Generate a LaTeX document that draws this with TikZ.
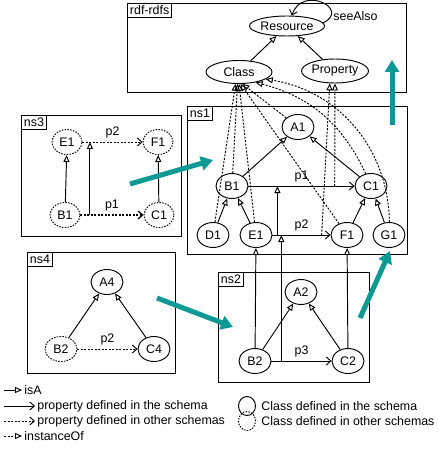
\documentclass[tikz,border=0pt]{standalone}
\usepackage{fontspec}
\setmainfont{Liberation Sans}
\usetikzlibrary{arrows.meta, shapes.geometric}
\definecolor{cteal}{HTML}{0E9A94}
\tikzset{
  every picture/.style={line width=0.95pt, font=\fontsize{12.4}{15}\selectfont},
  cls/.style={draw, ellipse, minimum width=32pt, minimum height=25pt, inner sep=0pt},
  ocls/.style={cls, dash pattern=on 1.5pt off 1.3pt},
  isa/.style={-{Triangle[open, length=7pt, width=6pt]}},
  prop/.style={-{Straight Barb[length=4.5pt, width=8pt]}},
  oprop/.style={prop, dash pattern=on 2pt off 1.5pt},
  inst/.style={isa, dash pattern=on 2pt off 1.5pt},
  nsbox/.style={draw, anchor=north west, inner sep=0pt},
  tag/.style={draw, anchor=north west, inner sep=2.5pt},
  bigarrow/.style={draw=cteal, line width=5pt, -{Triangle[length=12pt, width=14pt]}},
  legtext/.style={anchor=west, inner sep=2pt},
}

\begin{document}
\begin{tikzpicture}[x=1pt, y=-1pt]
  \useasboundingbox (0,0) rectangle (438,449);
  % namespace boxes with their tags
  \node[nsbox, minimum width=279pt, minimum height=89pt] (rdf) at (127,3) {};
  \node[tag] (rdfTag) at (rdf.north west) {rdf-rdfs};
  \node[nsbox, minimum width=220pt, minimum height=148pt] (ns1) at (187,106) {};
  \node[tag] (ns1Tag) at (ns1.north west) {ns1};
  \node[nsbox, minimum width=151pt, minimum height=110pt] (ns2) at (218,272) {};
  \node[tag] (ns2Tag) at (ns2.north west) {ns2};
  \node[nsbox, minimum width=160pt, minimum height=121pt] (ns3) at (21,115) {};
  \node[tag] (ns3Tag) at (ns3.north west) {ns3};
  \node[nsbox, minimum width=148pt, minimum height=121pt] (ns4) at (27,252) {};
  \node[tag] (ns4Tag) at (ns4.north west) {ns4};

  % rdf-rdfs
  \node[cls, minimum width=70pt, minimum height=20pt] (Resource) at (287,26) {Resource};
  \node[cls, minimum width=66pt, minimum height=23pt] (Class) at (239,72) {Class};
  \node[cls, minimum width=67pt, minimum height=24pt] (Property) at (335,71) {Property};
  \draw[isa] (Class) -- (Resource);
  \draw[isa] (Property) -- (Resource);
  \draw[prop] (Resource.5) .. controls +(28,-14) and +(10,-31) .. (Resource.65);
  \node[anchor=west, inner sep=0pt] (seeAlso) at (333,16) {seeAlso};

  % ns1
  \node[cls] (A1) at (298,127) {A1};
  \node[cls] (B1) at (232,186) {B1};
  \node[cls] (C1) at (371,186) {C1};
  \node[cls] (D1) at (213,235) {D1};
  \node[cls] (E1) at (256,235) {E1};
  \node[cls] (F1) at (347,235) {F1};
  \node[cls] (G1) at (389,235) {G1};
  \draw[isa] (B1) -- (A1);
  \draw[isa] (C1) -- (A1);
  \draw[isa] (D1) -- (B1);
  \draw[isa] (E1) -- (B1);
  \draw[isa] (F1) -- (C1);
  \draw[isa] (G1) -- (C1);
  \draw[prop] (B1) -- coordinate[pos=0.813] (q1b) node[above] {p1} (C1);
  \draw[prop] (E1) -- coordinate[pos=0.085] (q2a) coordinate[pos=0.847] (q2b) node[above] {p2} (F1);
  \draw[isa] (q2a) -- (q2a |- B1);

  % ns1 -> rdf-rdfs (instanceOf)
  \draw[inst] (D1) -- (Class.254);
  \draw[inst] (B1) -- (Class.263);
  \draw[inst] (E1) -- (Class.270);
  \draw[inst] (F1) -- (Class.277);
  \draw[inst] (A1) -- (Class.286);
  \draw[inst] (C1) to[bend right=25] (Class.328);
  \draw[inst] (G1) to[bend right=40] (Class.345);
  \draw[inst] (q1b) -- (Property.south);
  \draw[inst] (q2b) -- (Property.247);

  % ns2
  \node[cls] (A2) at (301,292) {A2};
  \node[cls] (B2) at (255,361) {B2};
  \node[cls] (C2) at (348,361) {C2};
  \draw[isa] (B2) -- (A2);
  \draw[isa] (C2) -- (A2);
  \draw[prop] (B2) -- coordinate[pos=0.164] (q3) node[above] {p3} (C2);
  \draw[isa] (B2) -- (E1);
  \draw[isa] (q3) -- (q3 |- E1);
  \draw[isa] (C2) -- (F1);

  % ns3
  \node[ocls, minimum width=30pt] (E1o) at (67,142) {E1};
  \node[ocls, minimum width=30pt] (F1o) at (158,142) {F1};
  \node[ocls, minimum width=30pt] (B1o) at (65,215) {B1};
  \node[ocls, minimum width=30pt] (C1o) at (159,215) {C1};
  \draw[isa] (B1o) -- (E1o);
  \draw[isa] (C1o) -- (F1o);
  \draw[oprop] (E1o) -- node[above] {p2} (F1o);
  \draw[oprop, line width=1.3pt] (B1o) -- coordinate[pos=0.15] (q4) node[above] {p1} (C1o);
  \draw[isa] (q4) -- (q4 |- E1o);

  % ns4
  \node[cls] (A4) at (107,282) {A4};
  \node[ocls] (B2o) at (61,349) {B2};
  \node[cls] (C4) at (154,349) {C4};
  \draw[isa] (B2o) -- (A4);
  \draw[isa] (C4) -- (A4);
  \draw[oprop] (B2o) -- node[above] {p2} (C4);

  % import arrows between the schemas
  \coordinate (t3a) at (130,184); \coordinate (t3b) at (213,160);
  \coordinate (t4a) at (157,298); \coordinate (t4b) at (233,327);
  \coordinate (t2a) at (360,318); \coordinate (t2b) at (390,251);
  \coordinate (t1a) at (392,125); \coordinate (t1b) at (392,60);
  \draw[bigarrow] (t3a) -- (t3b);
  \draw[bigarrow] (t4a) -- (t4b);
  \draw[bigarrow] (t2a) -- (t2b);
  \draw[bigarrow] (t1a) -- (t1b);

  % legend
  \coordinate (lg1) at (4,390);
  \coordinate (lg2) at (4,406);
  \coordinate (lg3) at (4,421);
  \coordinate (lg4) at (4,436);
  \node[legtext] (lgIsa) at (22,390) {isA};
  \node[legtext] (lgProp) at (35,406) {property defined in the schema};
  \node[legtext] (lgOProp) at (35,421) {property defined in other schemas};
  \node[legtext] (lgInst) at (22,436) {instanceOf};
  \draw[isa] (lg1) -- (lgIsa);
  \draw[prop] (lg2) -- (lgProp);
  \draw[oprop] (lg3) -- (lgOProp);
  \draw[inst] (lg4) -- (lgInst);
  \node[cls, minimum width=17pt, minimum height=19pt] (lgCls) at (247,406) {};
  \node[legtext, inner sep=0pt, xshift=5pt] (lgClsText) at (lgCls.east) {Class defined in the schema};
  \node[ocls, minimum width=17pt, minimum height=19pt] (lgOCls) at (247,421) {};
  \node[legtext, inner sep=0pt, xshift=5pt] (lgOClsText) at (lgOCls.east) {Class defined in other schemas};
\end{tikzpicture}
\end{document}
